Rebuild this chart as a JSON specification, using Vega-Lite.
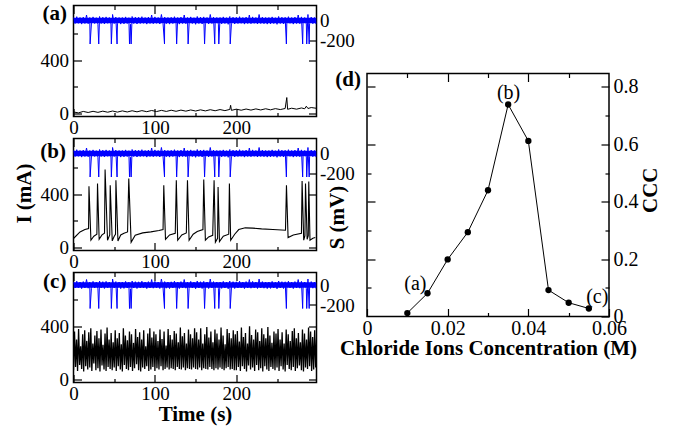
{
"$schema": "https://vega.github.io/schema/vega-lite/v6.json",
"autosize": {"type": "pad"},
"padding": {"left": 12.5, "top": 1.5, "right": 0, "bottom": 0},
"background": "white",
"config": {
  "font": "Liberation Serif",
  "view": {"stroke": "black", "strokeWidth": 1.5},
  "axis": {"labelFont": "Liberation Serif", "labelFontSize": 19, "labelColor": "black", "titleFont": "Liberation Serif", "titleFontSize": 21, "titleFontWeight": "bold", "titleColor": "black", "tickColor": "black", "tickWidth": 1.2, "domain": false, "grid": false, "labelFlush": false, "labelOverlap": false}
},
"datasets": {
"band": [{"t":0,"lo":-28,"hi":28},{"t":298.5,"lo":-28,"hi":28}],
"blue": [
{"t":0,"s":32},{"t":2,"s":-30},{"t":4,"s":38},{"t":6,"s":-28},{"t":8,"s":30},{"t":10,"s":-36},{"t":12,"s":34},{"t":14,"s":-30},{"t":16,"s":55},{"t":18,"s":-32},
{"t":20,"s":30},{"t":22,"s":-34},{"t":24,"s":36},{"t":26,"s":-30},{"t":28,"s":28},{"t":30,"s":-38},{"t":32,"s":40},{"t":34,"s":-30},{"t":36,"s":33},{"t":38,"s":-35},
{"t":40,"s":36},{"t":42,"s":-28},{"t":44,"s":30},{"t":46,"s":-35},{"t":48,"s":60},{"t":50,"s":-30},{"t":52,"s":34},{"t":54,"s":-32},{"t":56,"s":30},{"t":58,"s":-36},
{"t":60,"s":30},{"t":62,"s":-34},{"t":64,"s":36},{"t":66,"s":-30},{"t":68,"s":28},{"t":70,"s":-38},{"t":72,"s":40},{"t":74,"s":-30},{"t":76,"s":33},{"t":78,"s":-35},
{"t":80,"s":32},{"t":82,"s":-30},{"t":84,"s":38},{"t":86,"s":-28},{"t":88,"s":30},{"t":90,"s":-36},{"t":92,"s":34},{"t":94,"s":-30},{"t":96,"s":55},{"t":98,"s":-32},
{"t":100,"s":36},{"t":102,"s":-28},{"t":104,"s":30},{"t":106,"s":-35},{"t":108,"s":60},{"t":110,"s":-30},{"t":112,"s":34},{"t":114,"s":-32},{"t":116,"s":30},{"t":118,"s":-36},
{"t":120,"s":32},{"t":122,"s":-30},{"t":124,"s":38},{"t":126,"s":-28},{"t":128,"s":30},{"t":130,"s":-36},{"t":132,"s":34},{"t":134,"s":-30},{"t":136,"s":55},{"t":138,"s":-32},
{"t":140,"s":30},{"t":142,"s":-34},{"t":144,"s":36},{"t":146,"s":-30},{"t":148,"s":28},{"t":150,"s":-38},{"t":152,"s":40},{"t":154,"s":-30},{"t":156,"s":33},{"t":158,"s":-35},
{"t":160,"s":36},{"t":162,"s":-28},{"t":164,"s":30},{"t":166,"s":-35},{"t":168,"s":60},{"t":170,"s":-30},{"t":172,"s":34},{"t":174,"s":-32},{"t":176,"s":30},{"t":178,"s":-36},
{"t":180,"s":30},{"t":182,"s":-34},{"t":184,"s":36},{"t":186,"s":-30},{"t":188,"s":28},{"t":190,"s":-38},{"t":192,"s":40},{"t":194,"s":-30},{"t":196,"s":33},{"t":198,"s":-35},
{"t":200,"s":32},{"t":202,"s":-30},{"t":204,"s":38},{"t":206,"s":-28},{"t":208,"s":30},{"t":210,"s":-36},{"t":212,"s":34},{"t":214,"s":-30},{"t":216,"s":55},{"t":218,"s":-32},
{"t":220,"s":36},{"t":222,"s":-28},{"t":224,"s":30},{"t":226,"s":-35},{"t":228,"s":60},{"t":230,"s":-30},{"t":232,"s":34},{"t":234,"s":-32},{"t":236,"s":30},{"t":238,"s":-36},
{"t":240,"s":30},{"t":242,"s":-34},{"t":244,"s":36},{"t":246,"s":-30},{"t":248,"s":28},{"t":250,"s":-38},{"t":252,"s":40},{"t":254,"s":-30},{"t":256,"s":33},{"t":258,"s":-35},
{"t":260,"s":32},{"t":262,"s":-30},{"t":264,"s":38},{"t":266,"s":-28},{"t":268,"s":30},{"t":270,"s":-36},{"t":272,"s":34},{"t":274,"s":-30},{"t":276,"s":55},{"t":278,"s":-32},
{"t":280,"s":36},{"t":282,"s":-28},{"t":284,"s":30},{"t":286,"s":-35},{"t":288,"s":60},{"t":290,"s":-30},{"t":292,"s":34},{"t":294,"s":-32},{"t":296,"s":30},{"t":298,"s":-36},
{"t":20.4,"s":-235},{"t":31,"s":-235},{"t":46.5,"s":-235},{"t":53.5,"s":-235},{"t":68.8,"s":-235},{"t":70.8,"s":-235},{"t":111.8,"s":-235},{"t":126.7,"s":-235},{"t":140.8,"s":-235},{"t":161,"s":-235},{"t":173.5,"s":-235},{"t":178.5,"s":-235},{"t":192.5,"s":-235},{"t":261.5,"s":-235},{"t":281.5,"s":-235},{"t":286.5,"s":-235},{"t":289.5,"s":-235}
],
"ablack": [
{"t":0,"v":12},{"t":6,"v":5},{"t":12,"v":16},{"t":18,"v":8},{"t":24,"v":17},{"t":30,"v":9},{"t":36,"v":18},{"t":42,"v":10},{"t":48,"v":19},{"t":54,"v":11},{"t":60,"v":20},{"t":66,"v":12},{"t":72,"v":21},{"t":78,"v":13},{"t":84,"v":22},{"t":90,"v":14},{"t":96,"v":23},{"t":102,"v":15},{"t":108,"v":24},{"t":114,"v":16},{"t":120,"v":25},{"t":126,"v":17},{"t":132,"v":26},{"t":138,"v":18},{"t":144,"v":27},{"t":150,"v":19},{"t":156,"v":28},{"t":162,"v":20},{"t":168,"v":29},{"t":174,"v":21},{"t":180,"v":30},{"t":186,"v":22},{"t":192,"v":31},{"t":193,"v":62},{"t":194,"v":24},{"t":200,"v":33},{"t":206,"v":25},{"t":212,"v":34},{"t":218,"v":26},{"t":224,"v":35},{"t":230,"v":27},{"t":236,"v":36},{"t":242,"v":28},{"t":248,"v":37},{"t":254,"v":30},{"t":260,"v":38},{"t":262,"v":120},{"t":263,"v":32},{"t":268,"v":40},{"t":274,"v":33},{"t":280,"v":42},{"t":284,"v":36},{"t":286,"v":55},{"t":288,"v":38},{"t":292,"v":45},{"t":298,"v":40}
],
"bblack": [
{"t":0,"v":68},{"t":8,"v":117},{"t":14,"v":135},{"t":18.5,"v":142},{"t":19,"v":460},{"t":21.4,"v":55},{"t":25,"v":85},{"t":28.7,"v":100},{"t":29.5,"v":480},{"t":31.5,"v":62},{"t":35,"v":95},{"t":38.1,"v":107},{"t":38.8,"v":585},{"t":41.8,"v":55},{"t":44.5,"v":95},{"t":45.1,"v":467},{"t":47.6,"v":50},{"t":50,"v":85},{"t":51.6,"v":100},{"t":52.1,"v":505},{"t":54.6,"v":50},{"t":58,"v":95},{"t":62,"v":108},{"t":66.4,"v":117},{"t":67.9,"v":517},{"t":70.8,"v":40},{"t":75.8,"v":92},{"t":85,"v":110},{"t":95,"v":118},{"t":105,"v":128},{"t":110,"v":135},{"t":110.9,"v":467},{"t":113,"v":62},{"t":118,"v":95},{"t":125,"v":107},{"t":126.3,"v":505},{"t":128,"v":55},{"t":133,"v":95},{"t":138.6,"v":110},{"t":140,"v":505},{"t":142,"v":55},{"t":147,"v":100},{"t":152,"v":120},{"t":159,"v":135},{"t":160,"v":510},{"t":162,"v":55},{"t":166,"v":80},{"t":171,"v":92},{"t":172.7,"v":505},{"t":174.3,"v":40},{"t":177,"v":70},{"t":177.6,"v":455},{"t":179.3,"v":45},{"t":184,"v":85},{"t":190.7,"v":100},{"t":191.5,"v":480},{"t":193.1,"v":55},{"t":198,"v":100},{"t":203,"v":135},{"t":211,"v":148},{"t":220,"v":146},{"t":231,"v":140},{"t":245,"v":135},{"t":260.4,"v":130},{"t":261.6,"v":467},{"t":263.6,"v":75},{"t":270,"v":95},{"t":280,"v":107},{"t":280.8,"v":500},{"t":282.8,"v":55},{"t":284.3,"v":90},{"t":285,"v":480},{"t":287,"v":62},{"t":288.4,"v":90},{"t":289,"v":495},{"t":290.5,"v":55},{"t":294,"v":70},{"t":297,"v":75}
],
"cblack": [
{"t":0,"v":70},{"t":1.25,"v":360},{"t":2.5,"v":95},{"t":3.75,"v":300},{"t":5,"v":65},{"t":6.25,"v":380},{"t":7.5,"v":110},{"t":8.75,"v":250},{"t":10,"v":80},{"t":11.25,"v":340},{"t":12.5,"v":60},{"t":13.75,"v":370},{"t":15,"v":100},{"t":16.25,"v":290},{"t":17.5,"v":75},{"t":18.75,"v":355},{"t":20,"v":90},{"t":21.25,"v":385},{"t":22.5,"v":65},{"t":23.75,"v":270},{"t":25,"v":120},{"t":26.25,"v":330},{"t":27.5,"v":70},{"t":28.75,"v":365},{"t":30,"v":85},{"t":31.25,"v":310},{"t":32.5,"v":60},{"t":33.75,"v":375},{"t":35,"v":105},{"t":36.25,"v":260},{"t":37.5,"v":75},{"t":38.75,"v":345},{"t":40,"v":65},{"t":41.25,"v":390},{"t":42.5,"v":95},{"t":43.75,"v":300},{"t":45,"v":80},{"t":46.25,"v":350},{"t":47.5,"v":70},{"t":48.75,"v":280},
{"t":50,"v":90},{"t":51.25,"v":370},{"t":52.5,"v":65},{"t":53.75,"v":310},{"t":55,"v":100},{"t":56.25,"v":350},{"t":57.5,"v":75},{"t":58.75,"v":265},{"t":60,"v":60},{"t":61.25,"v":385},{"t":62.5,"v":110},{"t":63.75,"v":330},{"t":65,"v":80},{"t":66.25,"v":295},{"t":67.5,"v":70},{"t":68.75,"v":360},{"t":70,"v":95},{"t":71.25,"v":340},{"t":72.5,"v":65},{"t":73.75,"v":275},{"t":75,"v":85},{"t":76.25,"v":380},{"t":77.5,"v":115},{"t":78.75,"v":320},{"t":80,"v":70},{"t":81.25,"v":355},{"t":82.5,"v":60},{"t":83.75,"v":300},{"t":85,"v":90},{"t":86.25,"v":370},{"t":87.5,"v":80},{"t":88.75,"v":250},{"t":90,"v":100},{"t":91.25,"v":345},{"t":92.5,"v":65},{"t":93.75,"v":385},{"t":95,"v":75},{"t":96.25,"v":315},{"t":97.5,"v":95},{"t":98.75,"v":360},
{"t":100,"v":65},{"t":101.25,"v":340},{"t":102.5,"v":85},{"t":103.75,"v":290},{"t":105,"v":75},{"t":106.25,"v":375},{"t":107.5,"v":100},{"t":108.75,"v":305},{"t":110,"v":70},{"t":111.25,"v":360},{"t":112.5,"v":80},{"t":113.75,"v":255},{"t":115,"v":90},{"t":116.25,"v":380},{"t":117.5,"v":75},{"t":118.75,"v":335},{"t":120,"v":85},{"t":121.25,"v":300},{"t":122.5,"v":80},{"t":123.75,"v":365},{"t":125,"v":70},{"t":126.25,"v":345},{"t":127.5,"v":95},{"t":128.75,"v":280},{"t":130,"v":80},{"t":131.25,"v":390},{"t":132.5,"v":75},{"t":133.75,"v":325},{"t":135,"v":90},{"t":136.25,"v":350},{"t":137.5,"v":70},{"t":138.75,"v":270},{"t":140,"v":85},{"t":141.25,"v":375},{"t":142.5,"v":80},{"t":143.75,"v":340},{"t":145,"v":75},{"t":146.25,"v":310},{"t":147.5,"v":90},{"t":148.75,"v":385},
{"t":150,"v":80},{"t":151.25,"v":355},{"t":152.5,"v":75},{"t":153.75,"v":300},{"t":155,"v":90},{"t":156.25,"v":385},{"t":157.5,"v":70},{"t":158.75,"v":270},{"t":160,"v":85},{"t":161.25,"v":340},{"t":162.5,"v":80},{"t":163.75,"v":395},{"t":165,"v":75},{"t":166.25,"v":315},{"t":167.5,"v":95},{"t":168.75,"v":360},{"t":170,"v":80},{"t":171.25,"v":280},{"t":172.5,"v":70},{"t":173.75,"v":375},{"t":175,"v":85},{"t":176.25,"v":345},{"t":177.5,"v":75},{"t":178.75,"v":300},{"t":180,"v":90},{"t":181.25,"v":390},{"t":182.5,"v":80},{"t":183.75,"v":330},{"t":185,"v":70},{"t":186.25,"v":265},{"t":187.5,"v":85},{"t":188.75,"v":380},{"t":190,"v":95},{"t":191.25,"v":350},{"t":192.5,"v":75},{"t":193.75,"v":310},{"t":195,"v":80},{"t":196.25,"v":370},{"t":197.5,"v":70},{"t":198.75,"v":340},
{"t":200,"v":70},{"t":201.25,"v":365},{"t":202.5,"v":95},{"t":203.75,"v":285},{"t":205,"v":65},{"t":206.25,"v":390},{"t":207.5,"v":100},{"t":208.75,"v":320},{"t":210,"v":80},{"t":211.25,"v":350},{"t":212.5,"v":60},{"t":213.75,"v":270},{"t":215,"v":105},{"t":216.25,"v":400},{"t":217.5,"v":75},{"t":218.75,"v":335},{"t":220,"v":90},{"t":221.25,"v":300},{"t":222.5,"v":65},{"t":223.75,"v":375},{"t":225,"v":110},{"t":226.25,"v":355},{"t":227.5,"v":70},{"t":228.75,"v":290},{"t":230,"v":85},{"t":231.25,"v":385},{"t":232.5,"v":60},{"t":233.75,"v":340},{"t":235,"v":100},{"t":236.25,"v":310},{"t":237.5,"v":75},{"t":238.75,"v":395},{"t":240,"v":65},{"t":241.25,"v":330},{"t":242.5,"v":95},{"t":243.75,"v":275},{"t":245,"v":80},{"t":246.25,"v":360},{"t":247.5,"v":70},{"t":248.75,"v":345},
{"t":250,"v":90},{"t":251.25,"v":380},{"t":252.5,"v":65},{"t":253.75,"v":300},{"t":255,"v":100},{"t":256.25,"v":355},{"t":257.5,"v":75},{"t":258.75,"v":270},{"t":260,"v":60},{"t":261.25,"v":375},{"t":262.5,"v":110},{"t":263.75,"v":340},{"t":265,"v":80},{"t":266.25,"v":290},{"t":267.5,"v":70},{"t":268.75,"v":365},{"t":270,"v":95},{"t":271.25,"v":385},{"t":272.5,"v":65},{"t":273.75,"v":310},{"t":275,"v":85},{"t":276.25,"v":350},{"t":277.5,"v":105},{"t":278.75,"v":280},{"t":280,"v":70},{"t":281.25,"v":375},{"t":282.5,"v":60},{"t":283.75,"v":345},{"t":285,"v":90},{"t":286.25,"v":300},{"t":287.5,"v":80},{"t":288.75,"v":390},{"t":290,"v":100},{"t":291.25,"v":360},{"t":292.5,"v":65},{"t":293.75,"v":320},{"t":295,"v":75},{"t":296.25,"v":370},{"t":297.5,"v":90},{"t":298.75,"v":330}
],
"dd": [
{"conc":0.010,"ccc":0.012},{"conc":0.015,"ccc":0.081},{"conc":0.020,"ccc":0.199},{"conc":0.025,"ccc":0.294},{"conc":0.030,"ccc":0.440},{"conc":0.035,"ccc":0.739},{"conc":0.040,"ccc":0.612},{"conc":0.045,"ccc":0.092},{"conc":0.050,"ccc":0.048},{"conc":0.055,"ccc":0.028}
]
},
"spacing": -24.5,
"hconcat": [
{
"spacing": 22,
"bounds": "flush",
"vconcat": [
{
 "width": 243, "height": 111,
 "resolve": {"scale": {"y": "independent"}, "axis": {"x": "independent", "y": "independent"}},
 "layer": [
  {"data": {"name": "ablack"}, "mark": {"type": "line", "color": "black", "strokeWidth": 1, "clip": true},
   "encoding": {
    "x": {"field": "t", "type": "quantitative", "scale": {"domain": [0, 298.5], "nice": false, "zero": false}, "axis": {"orient": "bottom", "values": [0, 100, 200], "tickSize": -8, "labelPadding": 10, "title": null}},
    "y": {"field": "v", "type": "quantitative", "scale": {"domain": [-22, 810], "nice": false, "zero": false}, "axis": {"orient": "left", "values": [0, 400], "tickSize": -8, "labelPadding": 13, "title": null}}}},
  {"data": {"name": "band"}, "mark": {"type": "area", "color": "#0000ff", "clip": true},
   "encoding": {
    "x": {"field": "t", "type": "quantitative", "scale": {"domain": [0, 298.5], "nice": false, "zero": false}, "axis": null},
    "y": {"field": "lo", "type": "quantitative", "scale": {"domain": [-960, 150], "nice": false, "zero": false}, "axis": null},
    "y2": {"field": "hi"}}},
  {"data": {"name": "blue"}, "mark": {"type": "line", "color": "#0000ff", "strokeWidth": 1, "clip": true},
   "encoding": {
    "x": {"field": "t", "type": "quantitative", "scale": {"domain": [0, 298.5], "nice": false, "zero": false}, "axis": {"orient": "top", "values": [0, 100, 200], "tickSize": -8, "labels": false, "title": null}},
    "y": {"field": "s", "type": "quantitative", "scale": {"domain": [-960, 150], "nice": false, "zero": false}, "axis": {"orient": "right", "values": [-200, 0], "tickSize": -8, "labelPadding": 11, "labelExpr": "datum.value == 0 ? '0' : '-200'", "title": null}}}},
  {"data": {"values": [{"t": -23, "v": 745, "lab": "(a)"}, {"t": 337.4, "v": 248, "lab": "(d)"}]}, "mark": {"type": "text", "fontWeight": "bold", "fontSize": 21, "font": "Liberation Serif", "color": "black"},
   "encoding": {
    "x": {"field": "t", "type": "quantitative", "scale": {"domain": [0, 298.5], "nice": false, "zero": false}, "axis": {"orient": "bottom", "values": [50, 150, 250], "tickSize": -4, "labels": false, "title": null}},
    "y": {"field": "v", "type": "quantitative", "scale": {"domain": [-22, 810], "nice": false, "zero": false}, "axis": {"orient": "left", "values": [200, 600], "tickSize": -4, "labels": false, "title": null}},
    "text": {"field": "lab"}}},
  {"data": {"values": [{"t": 0, "v": 0}]}, "mark": {"type": "point", "opacity": 0},
   "encoding": {
    "x": {"field": "t", "type": "quantitative", "scale": {"domain": [0, 298.5], "nice": false, "zero": false}, "axis": {"orient": "top", "values": [50, 150, 250], "tickSize": -4, "labels": false, "title": null}},
    "y": {"field": "v", "type": "quantitative", "scale": {"domain": [-22, 810], "nice": false, "zero": false}, "axis": {"orient": "right", "values": [0, 400], "tickSize": -8, "labels": false, "title": null}}}}
 ]
},
{
 "width": 243, "height": 112,
 "resolve": {"scale": {"y": "independent"}, "axis": {"x": "independent", "y": "independent"}},
 "layer": [
  {"data": {"name": "bblack"}, "mark": {"type": "line", "color": "black", "strokeWidth": 1.1, "clip": true},
   "encoding": {
    "x": {"field": "t", "type": "quantitative", "scale": {"domain": [0, 298.5], "nice": false, "zero": false}, "axis": {"orient": "bottom", "values": [0, 100, 200], "tickSize": -8, "labelPadding": 10, "title": null}},
    "y": {"field": "v", "type": "quantitative", "scale": {"domain": [-22, 818], "nice": false, "zero": false}, "axis": {"orient": "left", "values": [0, 400], "tickSize": -8, "labelPadding": 13, "title": null}}}},
  {"data": {"name": "band"}, "mark": {"type": "area", "color": "#0000ff", "clip": true},
   "encoding": {
    "x": {"field": "t", "type": "quantitative", "scale": {"domain": [0, 298.5], "nice": false, "zero": false}, "axis": null},
    "y": {"field": "lo", "type": "quantitative", "scale": {"domain": [-970, 150], "nice": false, "zero": false}, "axis": null},
    "y2": {"field": "hi"}}},
  {"data": {"name": "blue"}, "mark": {"type": "line", "color": "#0000ff", "strokeWidth": 1, "clip": true},
   "encoding": {
    "x": {"field": "t", "type": "quantitative", "scale": {"domain": [0, 298.5], "nice": false, "zero": false}, "axis": {"orient": "top", "values": [0, 100, 200], "tickSize": -8, "labels": false, "title": null}},
    "y": {"field": "s", "type": "quantitative", "scale": {"domain": [-970, 150], "nice": false, "zero": false}, "axis": {"orient": "right", "values": [-200, 0], "tickSize": -8, "labelPadding": 11, "labelExpr": "datum.value == 0 ? '0' : '-200'", "title": null}}}},
  {"data": {"values": [{"t": -25, "v": 720, "lab": "(b)"}]}, "mark": {"type": "text", "fontWeight": "bold", "fontSize": 21, "font": "Liberation Serif", "color": "black"},
   "encoding": {
    "x": {"field": "t", "type": "quantitative", "scale": {"domain": [0, 298.5], "nice": false, "zero": false}, "axis": {"orient": "bottom", "values": [50, 150, 250], "tickSize": -4, "labels": false, "title": null}},
    "y": {"field": "v", "type": "quantitative", "scale": {"domain": [-22, 818], "nice": false, "zero": false}, "axis": {"orient": "left", "values": [200, 600], "tickSize": -4, "labels": false, "title": null}},
    "text": {"field": "lab"}}},
  {"data": {"values": [{"t": -59.3, "v": 405, "lab": "I (mA)"}, {"t": 325.2, "v": 225, "lab": "S (mV)"}]}, "mark": {"type": "text", "fontWeight": "bold", "fontSize": 21, "font": "Liberation Serif", "color": "black", "angle": 270, "align": "center", "baseline": "middle"},
   "encoding": {
    "x": {"field": "t", "type": "quantitative", "scale": {"domain": [0, 298.5], "nice": false, "zero": false}, "axis": null},
    "y": {"field": "v", "type": "quantitative", "scale": {"domain": [-22, 818], "nice": false, "zero": false}, "axis": null},
    "text": {"field": "lab"}}},
  {"data": {"values": [{"t": 0, "v": 0}]}, "mark": {"type": "point", "opacity": 0},
   "encoding": {
    "x": {"field": "t", "type": "quantitative", "scale": {"domain": [0, 298.5], "nice": false, "zero": false}, "axis": {"orient": "top", "values": [50, 150, 250], "tickSize": -4, "labels": false, "title": null}},
    "y": {"field": "v", "type": "quantitative", "scale": {"domain": [-22, 818], "nice": false, "zero": false}, "axis": {"orient": "right", "values": [0, 400], "tickSize": -8, "labels": false, "title": null}}}}
 ]
},
{
 "width": 243, "height": 110,
 "resolve": {"scale": {"y": "independent"}, "axis": {"x": "independent", "y": "independent"}},
 "layer": [
  {"data": {"name": "cblack"}, "mark": {"type": "line", "color": "black", "strokeWidth": 1.3, "clip": true},
   "encoding": {
    "x": {"field": "t", "type": "quantitative", "scale": {"domain": [0, 298.5], "nice": false, "zero": false}, "axis": {"orient": "bottom", "values": [0, 100, 200], "tickSize": -8, "labelPadding": 10, "title": "Time (s)", "titleY": 32, "titleBaseline": "middle"}},
    "y": {"field": "v", "type": "quantitative", "scale": {"domain": [-22, 803], "nice": false, "zero": false}, "axis": {"orient": "left", "values": [0, 400], "tickSize": -8, "labelPadding": 13, "title": null}}}},
  {"data": {"name": "band"}, "mark": {"type": "area", "color": "#0000ff", "clip": true},
   "encoding": {
    "x": {"field": "t", "type": "quantitative", "scale": {"domain": [0, 298.5], "nice": false, "zero": false}, "axis": null},
    "y": {"field": "lo", "type": "quantitative", "scale": {"domain": [-975, 125], "nice": false, "zero": false}, "axis": null},
    "y2": {"field": "hi"}}},
  {"data": {"name": "blue"}, "mark": {"type": "line", "color": "#0000ff", "strokeWidth": 1, "clip": true},
   "encoding": {
    "x": {"field": "t", "type": "quantitative", "scale": {"domain": [0, 298.5], "nice": false, "zero": false}, "axis": {"orient": "top", "values": [0, 100, 200], "tickSize": -8, "labels": false, "title": null}},
    "y": {"field": "s", "type": "quantitative", "scale": {"domain": [-975, 125], "nice": false, "zero": false}, "axis": {"orient": "right", "values": [-200, 0], "tickSize": -8, "labelPadding": 11, "labelExpr": "datum.value == 0 ? '0' : '-200'", "title": null}}}},
  {"data": {"values": [{"t": -23, "v": 735, "lab": "(c)"}]}, "mark": {"type": "text", "fontWeight": "bold", "fontSize": 21, "font": "Liberation Serif", "color": "black"},
   "encoding": {
    "x": {"field": "t", "type": "quantitative", "scale": {"domain": [0, 298.5], "nice": false, "zero": false}, "axis": {"orient": "bottom", "values": [50, 150, 250], "tickSize": -4, "labels": false, "title": null}},
    "y": {"field": "v", "type": "quantitative", "scale": {"domain": [-22, 803], "nice": false, "zero": false}, "axis": {"orient": "left", "values": [200, 600], "tickSize": -4, "labels": false, "title": null}},
    "text": {"field": "lab"}}},
  {"data": {"values": [{"t": 0, "v": 0}]}, "mark": {"type": "point", "opacity": 0},
   "encoding": {
    "x": {"field": "t", "type": "quantitative", "scale": {"domain": [0, 298.5], "nice": false, "zero": false}, "axis": {"orient": "top", "values": [50, 150, 250], "tickSize": -4, "labels": false, "title": null}},
    "y": {"field": "v", "type": "quantitative", "scale": {"domain": [-22, 803], "nice": false, "zero": false}, "axis": {"orient": "right", "values": [0, 400], "tickSize": -8, "labels": false, "title": null}}}}
 ]
}
]
},
{
"spacing": 0,
"bounds": "flush",
"vconcat": [
{
 "width": 10, "height": 68, "view": {"stroke": null},
 "data": {"values": []},
 "mark": {"type": "point", "opacity": 0}
},
{
 "width": 242, "height": 243,
 "resolve": {"axis": {"x": "independent", "y": "independent"}},
 "layer": [
  {"data": {"name": "dd"}, "mark": {"type": "line", "color": "black", "strokeWidth": 1},
   "encoding": {
    "x": {"field": "conc", "type": "quantitative", "scale": {"domain": [0, 0.06], "nice": false, "zero": false}, "axis": {"orient": "bottom", "values": [0, 0.02, 0.04, 0.06], "tickSize": -8, "labelPadding": 10, "labelFontSize": 20, "labelExpr": "datum.value == 0 ? '0' : format(datum.value, '.2f')", "title": "Chloride Ions Concentration (M)", "titleY": 32, "titleBaseline": "middle"}},
    "y": {"field": "ccc", "type": "quantitative", "scale": {"domain": [0, 0.847], "nice": false, "zero": false}, "axis": {"orient": "right", "values": [0, 0.2, 0.4, 0.6, 0.8], "tickSize": -8, "labelPadding": 12, "labelFontSize": 20, "labelExpr": "datum.value == 0 ? '0' : format(datum.value, '.1f')", "title": null}}}},
  {"data": {"name": "dd"}, "mark": {"type": "point", "filled": true, "color": "black", "size": 40, "opacity": 1},
   "encoding": {
    "x": {"field": "conc", "type": "quantitative", "scale": {"domain": [0, 0.06], "nice": false, "zero": false}, "axis": {"orient": "bottom", "values": [0.01, 0.03, 0.05], "tickSize": -4, "labels": false, "title": null}},
    "y": {"field": "ccc", "type": "quantitative", "scale": {"domain": [0, 0.847], "nice": false, "zero": false}, "axis": {"orient": "right", "values": [0.1, 0.3, 0.5, 0.7], "tickSize": -4, "labels": false, "title": null}}}},
  {"data": {"values": [{"conc": 0.012, "ccc": 0.114, "lab": "(a)"}, {"conc": 0.0351, "ccc": 0.78, "lab": "(b)"}, {"conc": 0.0571, "ccc": 0.067, "lab": "(c)"}]},
   "mark": {"type": "text", "fontSize": 20, "font": "Liberation Serif", "color": "black"},
   "encoding": {
    "x": {"field": "conc", "type": "quantitative", "scale": {"domain": [0, 0.06], "nice": false, "zero": false}, "axis": {"orient": "top", "values": [0.02, 0.04], "tickSize": -8, "labels": false, "title": null}},
    "y": {"field": "ccc", "type": "quantitative", "scale": {"domain": [0, 0.847], "nice": false, "zero": false}, "axis": {"orient": "left", "values": [0.2, 0.4, 0.6, 0.8], "tickSize": -8, "labels": false, "title": null}},
    "text": {"field": "lab"}}},
  {"data": {"values": [{"conc": 0.0705, "ccc": 0.44, "lab": "CCC"}]},
   "mark": {"type": "text", "fontSize": 21, "fontWeight": "bold", "font": "Liberation Serif", "color": "black", "angle": 270, "align": "center", "baseline": "middle"},
   "encoding": {
    "x": {"field": "conc", "type": "quantitative", "scale": {"domain": [0, 0.06], "nice": false, "zero": false}, "axis": {"orient": "top", "values": [0.01, 0.03, 0.05], "tickSize": -4, "labels": false, "title": null}},
    "y": {"field": "ccc", "type": "quantitative", "scale": {"domain": [0, 0.847], "nice": false, "zero": false}, "axis": {"orient": "left", "values": [0.1, 0.3, 0.5, 0.7], "tickSize": -4, "labels": false, "title": null}},
    "text": {"field": "lab"}}}
 ]
}
]
}
]
}
